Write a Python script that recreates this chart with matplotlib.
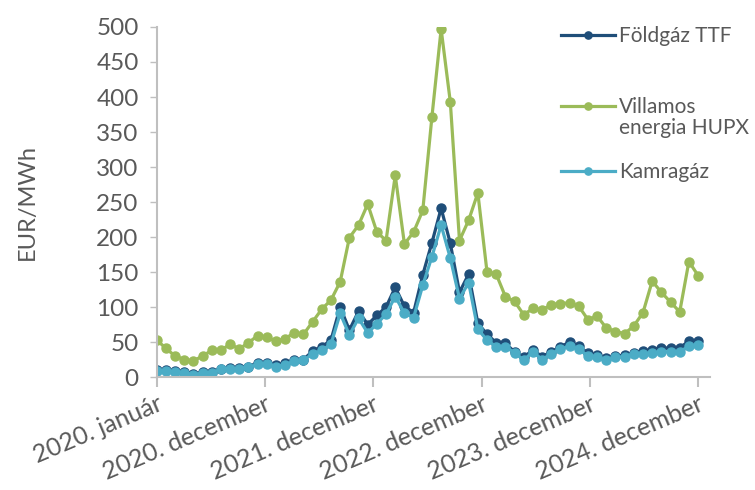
import matplotlib
matplotlib.use("Agg")
import matplotlib.pyplot as plt
from matplotlib.lines import Line2D
import numpy as np

# monthly prices, EUR/MWh
villamos = [53, 41, 30, 25, 23, 30, 38, 38, 47, 40, 49, 59, 57, 51, 55, 63, 61, 79, 97, 110,
            136, 199, 217, 247, 207, 195, 288, 190, 207, 238, 372, 497, 393, 195, 224, 263, 150, 147, 115, 108,
            89, 98, 96, 103, 105, 106, 101, 82, 87, 70, 65, 62, 73, 92, 137, 121, 107, 93, 165, 145]
foldgaz = [10, 10, 8, 7, 4, 7, 7, 12, 13, 13, 15, 20, 20, 17, 20, 24, 25, 37, 43, 53,
           100, 67, 94, 75, 88, 100, 128, 101, 92, 146, 192, 241, 191, 121, 147, 77, 61, 49, 48, 36,
           28, 39, 29, 36, 43, 50, 44, 34, 31, 27, 30, 31, 35, 37, 39, 42, 41, 42, 51, 52]
kamragaz = [9, 9, 7, 6, 3, 6, 6, 11, 12, 12, 14, 18, 19, 15, 17, 23, 24, 33, 38, 47,
            91, 60, 84, 63, 76, 90, 115, 91, 85, 131, 172, 217, 170, 112, 135, 68, 53, 43, 43, 35,
            24, 36, 25, 33, 40, 44, 40, 30, 28, 24, 28, 29, 33, 33, 34, 36, 36, 36, 44, 46]
tick_labels = ["2020. január", "2020. december", "2021. december",
               "2022. december", "2023. december", "2024. december"]

plt.rcParams['font.family'] = ['Lato', 'DejaVu Sans']
txt = '#595959'
axc = '#BFBFBF'

fig = plt.figure(figsize=(7.55, 4.9), dpi=100)
ax = fig.add_axes([0.2075, 0.2306, 0.7329, 0.7143])

x = np.arange(len(villamos))
lw, ms = 2.3, 6.5
l_v, = ax.plot(x, villamos, color='#9BBB59', lw=lw, marker='o', ms=ms)
l_f, = ax.plot(x, foldgaz, color='#1F4E79', lw=lw, marker='o', ms=ms)
l_k, = ax.plot(x, kamragaz, color='#4BACC6', lw=lw, marker='o', ms=ms)

ax.set_xlim(0, 60.3)
ax.set_ylim(0, 500)
ax.set_yticks(np.arange(0, 501, 50))
ax.set_xticks(np.linspace(0, len(villamos) - 1, len(tick_labels)))
ax.set_xticklabels(tick_labels, rotation=23, ha='right', va='top', rotation_mode='anchor')

for s in ['top', 'right']:
    ax.spines[s].set_visible(False)
for s in ['left', 'bottom']:
    ax.spines[s].set_color(axc)
    ax.spines[s].set_linewidth(1.5)
ax.tick_params(axis='y', colors=axc, labelcolor=txt, labelsize=17.5, length=5, width=1, pad=8)
ax.tick_params(axis='x', colors=axc, labelcolor=txt, labelsize=18, length=7, width=1.5, pad=4)
ax.set_ylabel('EUR/MWh', color=txt, fontsize=17, labelpad=42)

# legend entries placed one by one, like the original layout
leg_kw = dict(frameon=False, fontsize=15, loc='center left', borderpad=0, borderaxespad=0,
              handlelength=2.6, handletextpad=0.2, labelcolor=txt, markerscale=0.8,
              labelspacing=0.05)
blank = Line2D([], [], color='none')
entries = [([l_f], ['Földgáz TTF'], 490 - 36),
           ([l_v, blank], ['Villamos', 'energia HUPX'], 490 - 117.5),
           ([l_k], ['Kamragáz'], 490 - 172)]
for hs, labs, ypx in entries:
    lg = fig.legend(handles=hs, labels=labs, bbox_to_anchor=(561 / 755, ypx / 490), **leg_kw)

fig.savefig('out.png', dpi=100)
